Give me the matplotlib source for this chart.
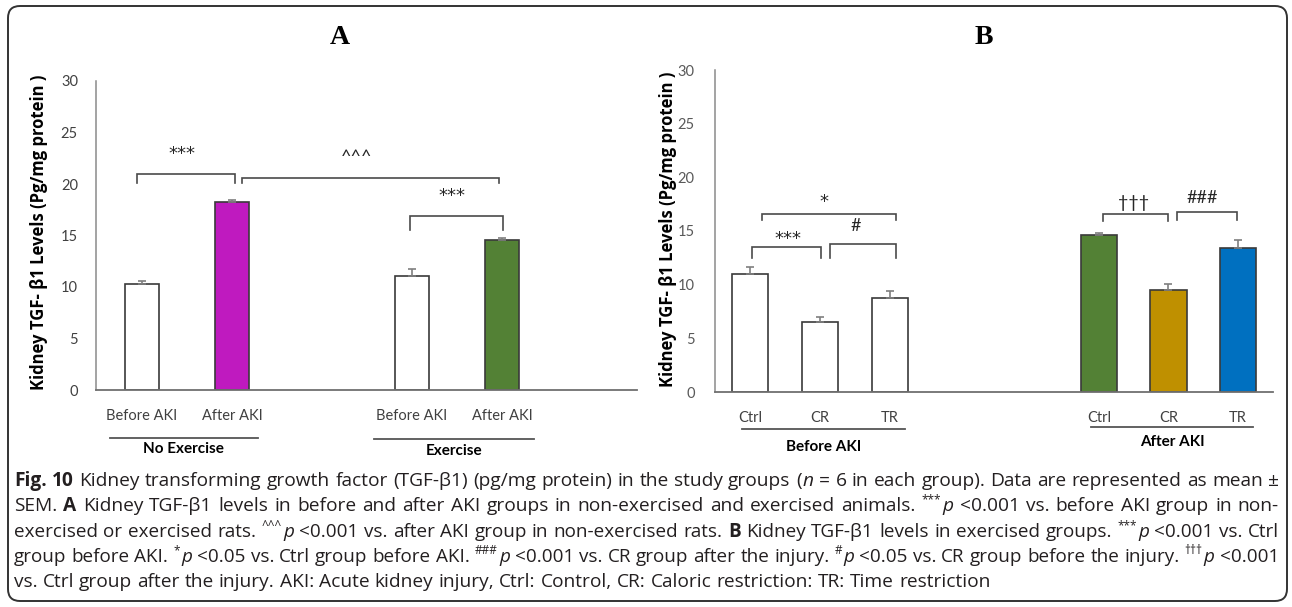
import matplotlib
matplotlib.use('Agg')
import matplotlib.pyplot as plt
from matplotlib.patches import FancyBboxPatch
from matplotlib.transforms import IdentityTransform, blended_transform_factory

# ---------------- data ----------------
A_labels = ["Before AKI", "After AKI", "Before AKI", "After AKI"]
A_vals = [10.3, 18.3, 11.1, 14.6]
A_err = [0.3, 0.15, 0.6, 0.2]
A_colors = ["white", "#BF1ABF", "white", "#538135"]
A_groups = ["No Exercise", "Exercise"]

B_labels = ["Ctrl", "CR", "TR", "Ctrl", "CR", "TR"]
B_vals = [11.0, 6.55, 8.8, 14.6, 9.5, 13.4]
B_err = [0.6, 0.45, 0.6, 0.2, 0.6, 0.8]
B_colors = ["white", "white", "white", "#538135", "#BF9000", "#0070C0"]
B_groups = ["Before AKI", "After AKI"]

y_ticks = [0, 5, 10, 15, 20, 25, 30]
ylabel = "Kidney TGF- \u03b21 Levels (Pg/mg protein )"

# ---------------- layout ----------------
W, H = 1292, 607
fig = plt.figure(figsize=(W / 100, H / 100), dpi=100)

TICK_FONT = "Lato"
EDGE = "#3a3a3a"
AX_COL = "#8a8a8a"


def style_axes(ax, xlim):
    for s in ["top", "right"]:
        ax.spines[s].set_visible(False)
    ax.spines["left"].set_color(AX_COL)
    ax.spines["bottom"].set_color("#6f6f6f")
    ax.spines["left"].set_linewidth(1.1)
    ax.spines["bottom"].set_linewidth(1.3)
    ax.set_xlim(*xlim)
    ax.set_ylim(0, 30)
    ax.set_yticks(y_ticks)
    ax.tick_params(length=0, labelsize=10.5, labelcolor="#404040")
    for lab in ax.get_xticklabels() + ax.get_yticklabels():
        lab.set_fontfamily(TICK_FONT)


def bracket(ax, x1, x2, ylow, ytop, ylow2=None):
    if ylow2 is None:
        ylow2 = ylow
    ax.plot([x1, x1, x2, x2], [ylow, ytop, ytop, ylow2], color="#4a4a4a",
            lw=1.2, clip_on=False, solid_joinstyle="miter")


def sig(ax, x, y, s):
    if "*" in s:
        ax.text(x, y, s, ha="center", va="center", fontsize=13,
                color="#262626", family="DejaVu Sans")
    else:
        ax.text(x, y, s, ha="center", va="center", fontsize=13,
                color="#262626", family=TICK_FONT)


def group_label(ax, x1, x2, yline, ytext, text):
    tr = blended_transform_factory(ax.transData, ax.transAxes)
    ax.plot([x1, x2], [yline, yline], color="#555555", lw=1.3, transform=tr,
            clip_on=False)
    ax.text((x1 + x2) / 2, ytext, text, transform=tr, ha="center",
            va="center", fontsize=11, fontweight="bold", family=TICK_FONT,
            color="black")


# ---------- Panel A ----------
axA = fig.add_axes([96 / W, 1 - 390 / H, 541 / W, 309 / H])
xA = [0, 1, 3, 4]
axA.bar(xA, A_vals, width=0.37, color=A_colors, edgecolor=EDGE, linewidth=1.2,
        zorder=2)
axA.errorbar(xA, A_vals, yerr=[[0] * len(A_err), A_err], fmt="none",
             ecolor="#7f7f7f", elinewidth=1.2, capsize=3, capthick=1.2,
             zorder=3)
axA.set_xticks(xA)
axA.set_xticklabels(A_labels)
style_axes(axA, (-0.51, 5.5))
axA.tick_params(axis="y", pad=13)
axA.tick_params(axis="x", pad=14)

bracket(axA, -0.06, 1.03, 20.1, 21.0)
sig(axA, 0.44, 22.9, "***")
bracket(axA, 1.11, 3.97, 20.1, 20.6)
sig(axA, 2.39, 22.6, "^^^")
bracket(axA, 2.98, 4.01, 15.5, 16.9)
sig(axA, 3.44, 18.8, "***")

group_label(axA, -0.36, 1.29, -0.155, -0.19, A_groups[0])
group_label(axA, 2.58, 4.36, -0.159, -0.199, A_groups[1])

# ---------- Panel B ----------
axB = fig.add_axes([715.5 / W, 1 - 392 / H, 557.5 / W, 322 / H])
xB = [0, 1, 2, 5, 6, 7]
axB.bar(xB, B_vals, width=0.52, color=B_colors, edgecolor=EDGE, linewidth=1.2,
        zorder=2)
axB.errorbar(xB, B_vals, yerr=[[0] * len(B_err), B_err], fmt="none",
             ecolor="#7f7f7f", elinewidth=1.2, capsize=3, capthick=1.2,
             zorder=3)
axB.set_xticks(xB)
axB.set_xticklabels(B_labels)
style_axes(axB, (-0.5, 7.5))
axB.tick_params(axis="y", pad=15, labelcolor="#595959")
axB.tick_params(axis="x", pad=14)

bracket(axB, 0.17, 2.09, 16.0, 16.6)
sig(axB, 1.05, 17.7, "*")
bracket(axB, 0.02, 1.01, 12.5, 13.5)
sig(axB, 0.54, 14.3, "***")
bracket(axB, 1.15, 2.09, 12.5, 13.8)
sig(axB, 1.51, 15.5, "#")
bracket(axB, 5.06, 6.0, 15.9, 16.55)
sig(axB, 5.5, 17.6, "\u2020\u2020\u2020")
bracket(axB, 6.12, 6.98, 16.0, 16.8)
sig(axB, 6.48, 18.1, "###")

group_label(axB, -0.12, 2.22, -0.115, -0.171, B_groups[0])
group_label(axB, 4.89, 7.21, -0.109, -0.155, B_groups[1])

# ---------- y labels and titles ----------
for xc, yc in [(39, 232), (668, 229)]:
    fig.text(xc / W, 1 - yc / H, ylabel, rotation=90, ha="center",
             va="center", fontsize=12, fontweight="bold", family="Open Sans",
             color="black")

fig.text(340 / W, 1 - 38 / H, "A", ha="center", va="center", fontsize=20,
         fontweight="bold", family="Liberation Serif")
fig.text(984 / W, 1 - 38 / H, "B", ha="center", va="center", fontsize=20,
         fontweight="bold", family="Liberation Serif")

# ---------- frame ----------
frame = FancyBboxPatch((8, 6), 1279, 595,
                       boxstyle="round,pad=0,rounding_size=12",
                       transform=IdentityTransform(), facecolor="none",
                       edgecolor="#333333", linewidth=1.4)
fig.add_artist(frame)

# ---------- caption ----------
R, B_, I, S = "r", "b", "i", "s"
caption_lines = [
    [("Fig. 10", B_),
     (" Kidney transforming growth factor (TGF-\u03b21) (pg/mg protein) in the study groups (", R),
     ("n", I), (" = 6 in each group). Data are represented as mean \u00b1", R)],
    [("SEM. ", R), ("A", B_),
     (" Kidney TGF-\u03b21 levels in before and after AKI groups in non-exercised and exercised animals. ", R),
     ("***", S), ("p", I), (" <0.001 vs. before AKI group in non-", R)],
    [("exercised or exercised rats. ", R), ("^^^", S), ("p", I),
     (" <0.001 vs. after AKI group in non-exercised rats. ", R), ("B", B_),
     (" Kidney TGF-\u03b21 levels in exercised groups. ", R), ("***", S),
     ("p", I), (" <0.001 vs. Ctrl", R)],
    [("group before AKI. ", R), ("*", S), ("p", I),
     (" <0.05 vs. Ctrl group before AKI. ", R), ("###", S), ("p", I),
     (" <0.001 vs. CR group after the injury. ", R), ("#", S), ("p", I),
     (" <0.05 vs. CR group before the injury. ", R), ("\u2020\u2020\u2020", S),
     ("p", I), (" <0.001", R)],
    [("vs. Ctrl group after the injury. AKI: Acute kidney injury, Ctrl: Control, CR: Caloric restriction: TR: Time restriction", R)],
]
justify = [True, True, True, True, False]
baselines = [486, 511, 537, 562, 587]
CAP_FONT = "Open Sans"
CAP_COL = "#231f20"

renderer = fig.canvas.get_renderer()


def props(style, fs):
    p = dict(family=CAP_FONT, color=CAP_COL, fontsize=fs)
    if style == "b":
        p["fontweight"] = "bold"
    elif style == "i":
        p["fontstyle"] = "italic"
    elif style == "s":
        p["fontsize"] = fs * 0.62
    return p


def measure(text, style, fs):
    t = fig.text(0, 0, text, **props(style, fs))
    w = t.get_window_extent(renderer).width
    t.remove()
    return w


def tokenize(segs):
    toks = []
    for text, style in segs:
        parts = text.split(" ")
        for i, p in enumerate(parts):
            if i > 0:
                toks.append(None)
            if p:
                toks.append((p, style))
    return toks


GAP = 1.5


def layout(segs, fs):
    toks = tokenize(segs)
    sp = measure("a a", "r", fs) - measure("aa", "r", fs)
    widths = [None if t is None else measure(t[0], t[1], fs) for t in toks]
    tot = 0.0
    prev = None
    for t, w in zip(toks, widths):
        if t is None:
            tot += sp
        else:
            if prev is not None:
                tot += GAP
            tot += w
        prev = t
    return toks, widths, sp, tot


def draw_line(segs, x0, base, fs, width=None):
    toks, widths, sp, nat = layout(segs, fs)
    if width is not None:
        while nat > width:
            fs *= 0.985
            toks, widths, sp, nat = layout(segs, fs)
        nsp = sum(1 for t in toks if t is None)
        if nsp:
            sp = sp + (width - nat) / nsp
    x = x0
    prev = None
    for t, w in zip(toks, widths):
        if t is None:
            x += sp
            prev = t
            continue
        if prev is not None:
            x += GAP
        dy = fs * 0.42 * 100 / 72 if t[1] == "s" else 0
        fig.text(x / W, (H - base + dy) / H, t[0], ha="left", va="baseline",
                 **props(t[1], fs))
        x += w
        prev = t


x_left, x_right = 14, 1279
line_w = x_right - x_left
fs0 = 11.0
w1 = layout(caption_lines[0], fs0)[3]
fs = fs0 * (line_w - 4) / w1
for segs, j, b in zip(caption_lines, justify, baselines):
    draw_line(segs, x_left, b, fs, line_w if j else None)

fig.savefig("out.png", dpi=100)
